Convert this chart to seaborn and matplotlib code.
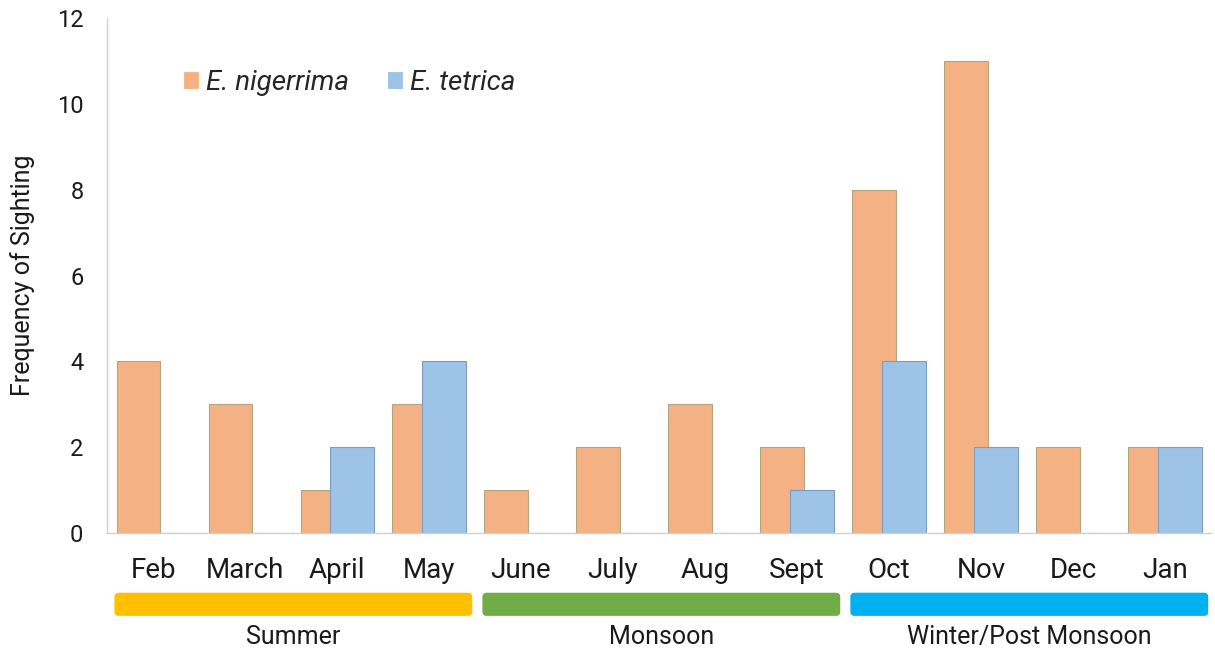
import pandas as pd
import seaborn as sns
import matplotlib.pyplot as plt
from matplotlib.patches import FancyBboxPatch
import matplotlib.transforms as mtransforms


MONTHS = ['Feb', 'March', 'April', 'May', 'June', 'July', 'Aug', 'Sept',
          'Oct', 'Nov', 'Dec', 'Jan']
NIGERRIMA = [4, 3, 1, 3, 1, 2, 3, 2, 8, 11, 2, 2]
TETRICA = [0, 0, 2, 4, 0, 0, 0, 1, 4, 2, 0, 2]
SPECIES = ['E. nigerrima', 'E. tetrica']

SEASONS = ['Summer', 'Monsoon', 'Winter/Post Monsoon']
SEASON_FIRST = ['Feb', 'June', 'Oct']
SEASON_LAST = ['May', 'Sept', 'Jan']
SEASON_COLORS = ['#FFC000', '#70AD47', '#00B0F0']

BAR_COLORS = ['#F4B183', '#9DC3E6']
EDGE_COLORS = ['#B5A57E', '#7E9CBD']


def build_frame():
    df = pd.DataFrame({'Month': MONTHS, SPECIES[0]: NIGERRIMA, SPECIES[1]: TETRICA})
    return df.melt(id_vars='Month', var_name='Species', value_name='Count')


def draw_seasons(ax):
    # coloured season strips under the month labels, x in categories, y in axes fraction
    trans = mtransforms.blended_transform_factory(ax.transData, ax.transAxes)
    for name, first, last, color in zip(SEASONS, SEASON_FIRST, SEASON_LAST, SEASON_COLORS):
        x0 = MONTHS.index(first) - 0.42
        x1 = MONTHS.index(last) + 0.47
        box = FancyBboxPatch((x0, -0.161), x1 - x0, 0.045,
                             boxstyle='round,pad=0,rounding_size=0.045',
                             transform=trans, facecolor=color, edgecolor='none',
                             clip_on=False, mutation_aspect=0.18)
        ax.add_patch(box)
        ax.text((x0 + x1) / 2, -0.202, name, transform=trans, ha='center',
                va='center', fontsize=18, color='#1a1a1a')


def main():
    sns.set_style('white')
    plt.rcParams['font.family'] = ['Roboto', 'DejaVu Sans']

    fig = plt.figure(figsize=(12.15, 6.53), dpi=100)
    ax = fig.add_axes([0.0881, 0.1838, 0.9086, 0.7886])

    df = build_frame()
    sns.barplot(data=df, x='Month', y='Count', hue='Species', order=MONTHS,
                hue_order=SPECIES, palette=BAR_COLORS, saturation=1,
                width=0.652, gap=-0.436, dodge=True, errorbar=None,
                linewidth=0.8, ax=ax)
    for container, edge in zip(ax.containers, EDGE_COLORS):
        for bar in container:
            bar.set_edgecolor(edge)

    ax.set_xlim(-0.5, 11.5)
    ax.set_ylim(0, 12)
    ax.set_yticks(range(0, 13, 2))
    ax.set_xlabel('')
    ax.set_ylabel('Frequency of Sighting', fontsize=18, color='#1a1a1a')
    ax.yaxis.set_label_coords(-0.065, 0.5)
    ax.tick_params(axis='x', length=0, pad=17, labelsize=20, labelcolor='#1a1a1a')
    ax.tick_params(axis='y', length=0, pad=17, labelsize=17, labelcolor='#1a1a1a')

    sns.despine(ax=ax, top=True, right=True)
    for side in ['left', 'bottom']:
        ax.spines[side].set_color('#d0d0d0')
        ax.spines[side].set_linewidth(1.0)

    handles, labels = ax.get_legend_handles_labels()
    ax.legend(handles, labels, loc='center left', bbox_to_anchor=(0.069, 0.874),
              ncol=2, frameon=False, borderpad=0, borderaxespad=0,
              handlelength=0.58, handleheight=0.58,
              handletextpad=0.25, columnspacing=1.37,
              prop={'style': 'italic', 'size': 20})

    draw_seasons(ax)
    fig.savefig('out.png', dpi=100)


main()
